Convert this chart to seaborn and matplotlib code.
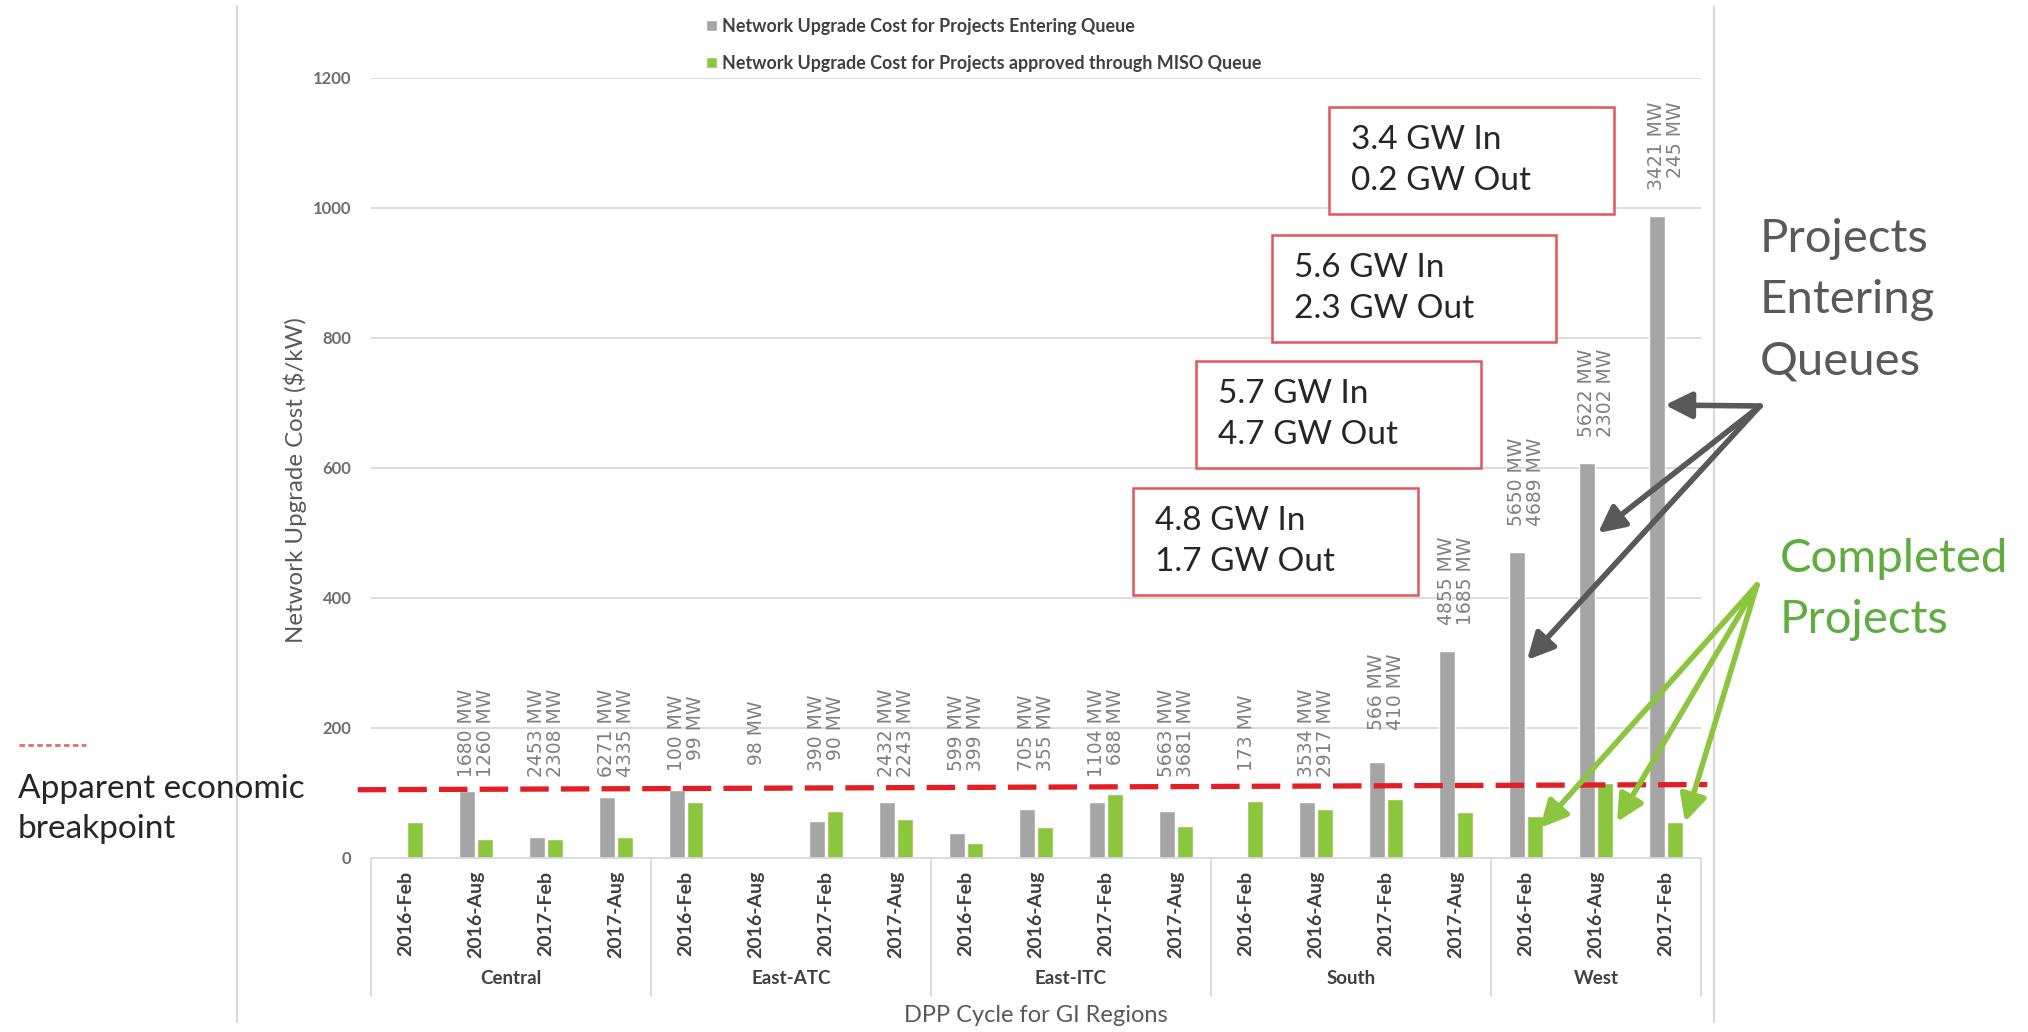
import numpy as np
import pandas as pd
import matplotlib
matplotlib.use("Agg")
import matplotlib.pyplot as plt
import seaborn as sns
from matplotlib.patches import Rectangle, FancyArrowPatch, Patch
from matplotlib.lines import Line2D

# ---------------- data ----------------
regions = ["Central"] * 4 + ["East-ATC"] * 4 + ["East-ITC"] * 4 + ["South"] * 4 + ["West"] * 3
cycles = ["2016-Feb", "2016-Aug", "2017-Feb", "2017-Aug"] * 4 + ["2016-Feb", "2016-Aug", "2017-Feb"]
entering_cost = [np.nan, 103, 32, 94,
                 105, np.nan, 57, 86,
                 38, 75, 86, 72,
                 np.nan, 86, 147, 318,
                 471, 607, 988]
approved_cost = [55, 30, 30, 32,
                 86, np.nan, 72, 60,
                 23, 47, 98, 49,
                 88, 76, 91, 71,
                 65, 115, 56]
mw_entering = ["", "1680", "2453", "6271", "100", "98", "390", "2432", "599", "705",
               "1104", "5663", "173", "3534", "566", "4855", "5650", "5622", "3421"]
mw_approved = ["", "1260", "2308", "4335", "99", "", "90", "2243", "399", "355",
               "688", "3681", "", "2917", "410", "1685", "4689", "2302", "245"]
series_names = ["Network Upgrade Cost for Projects Entering Queue",
                "Network Upgrade Cost for Projects approved through MISO Queue"]
breakpoint_start = 105
breakpoint_end = 113
y_ticks = [0, 200, 400, 600, 800, 1000, 1200]
box_texts = ["3.4 GW In\n0.2 GW Out", "5.6 GW In\n2.3 GW Out",
             "5.7 GW In\n4.7 GW Out", "4.8 GW In\n1.7 GW Out"]

# ---------------- layout / style ----------------
W, H = 2028, 1032
GREY = "#A5A5A5"
GREEN = "#8CC63F"
GRID = "#D9D9D9"
box_rects = [(1329, 107, 285, 107), (1272, 235, 284, 107),
             (1196, 361, 285, 107), (1133, 488, 285, 107)]

sns.set_theme(style="white")
plt.rcParams["font.family"] = ["Lato", "DejaVu Sans"]

fig = plt.figure(figsize=(W / 100, H / 100), dpi=100)
fig.patch.set_facecolor("white")
ax = fig.add_axes([371 / W, 1 - 858 / H, 1330 / W, 780 / H])

n = len(cycles)
keys = [f"{r}|{c}" for r, c in zip(regions, cycles)]
df = pd.DataFrame({
    "key": keys * 2,
    "cost": entering_cost + approved_cost,
    "series": [series_names[0]] * n + [series_names[1]] * n,
})
sns.barplot(data=df, x="key", y="cost", hue="series", order=keys, hue_order=series_names,
            palette=[GREY, GREEN], width=0.52, gap=0.08, saturation=1,
            errorbar=None, legend=False, ax=ax, zorder=2)

ax.set_xlim(-0.5, n - 0.5)
ax.set_ylim(0, 1200)
ax.set_xlabel("")
ax.set_ylabel("")
ax.set_yticks(y_ticks)
ax.set_yticklabels([str(t) for t in y_ticks], fontsize=12, fontweight="bold", color="#6E6E6E")
ax.set_xticks(range(n))
ax.set_xticklabels(cycles, rotation=90, fontsize=14, fontweight="bold", color="#404040")
ax.tick_params(axis="x", length=0, pad=9)
ax.tick_params(axis="y", length=0, pad=14)
ax.yaxis.grid(True, color=GRID, lw=1.3)
ax.xaxis.grid(False)
ax.set_axisbelow(True)
for s in ["left", "top", "right"]:
    ax.spines[s].set_visible(False)
ax.spines["bottom"].set_color(GRID)
ax.spines["bottom"].set_linewidth(1.3)

# breakpoint line
ax.plot([-0.69, n - 0.41], [breakpoint_start, breakpoint_end], color="#E31E24", lw=3.8,
        dashes=(5.4, 2.3), clip_on=False, zorder=4)

# MW labels
for i in range(n):
    parts = []
    if mw_entering[i]:
        parts.append(f"{mw_entering[i]} MW")
    if mw_approved[i]:
        parts.append(f"{mw_approved[i]} MW")
    if not parts:
        continue
    v = entering_cost[i]
    y = 192 if (np.isnan(v) or v < 130) else v + 108
    ax.text(i, y, "\n".join(parts), rotation=90, ha="center", va="center",
            multialignment="right", fontsize=13.5, color="#808080",
            family="DejaVu Sans", linespacing=1.0, zorder=3)

# group separators and region labels
trans = ax.get_xaxis_transform()
bounds = [-0.5]
for i in range(1, n):
    if regions[i] != regions[i - 1]:
        bounds.append(i - 0.5)
bounds.append(n - 0.5)
for b in bounds:
    ax.plot([b, b], [0, -0.177], transform=trans, clip_on=False, color=GRID, lw=1.3)
for r in dict.fromkeys(regions):
    idx = [i for i, rr in enumerate(regions) if rr == r]
    ax.text(np.mean(idx), -0.155, r, transform=trans, ha="center", va="center",
            fontsize=13.5, fontweight="bold", color="#404040")

# axis titles
fig.text(1036 / W, 1 - 1015 / H, "DPP Cycle for GI Regions", ha="center", va="center",
         fontsize=17, color="#595959")
fig.text(295 / W, 1 - 480 / H, "Network Upgrade Cost ($/kW)", rotation=90,
         ha="center", va="center", fontsize=17.3, color="#595959")

# legend
handles = [Patch(facecolor=GREY), Patch(facecolor=GREEN)]
fig.legend(handles, series_names, loc="upper left", bbox_to_anchor=(706 / W, 1 - 18 / H),
           frameon=False, prop={"size": 12.9, "weight": "bold"}, labelcolor="#404040",
           handlelength=0.6, handleheight=0.6, handletextpad=0.3, labelspacing=1.1,
           borderaxespad=0, borderpad=0)

# chart frame lines
for xf in (237, 1714):
    fig.add_artist(Line2D([xf / W, xf / W], [1 - 6 / H, 1 - 1022 / H],
                          transform=fig.transFigure, color=GRID, lw=1.5))

# annotation boxes
for (x, y, w, h), t in zip(box_rects, box_texts):
    fig.add_artist(Rectangle((x / W, 1 - (y + h) / H), w / W, h / H, transform=fig.transFigure,
                             facecolor="white", edgecolor="#E0575B", lw=1.8, zorder=5))
    fig.text((x + 22) / W, 1 - (y + h / 2) / H, t, ha="left", va="center", fontsize=24,
             color="#262626", linespacing=1.45, zorder=6)

# left annotation
fig.add_artist(Line2D([19 / W, 86 / W], [1 - 745 / H, 1 - 745 / H], transform=fig.transFigure,
                      color="#E46C6C", lw=2, dashes=(2, 1.2)))
fig.text(18 / W, 1 - 774 / H, "Apparent economic\nbreakpoint", ha="left", va="top",
         fontsize=24, color="#262626", linespacing=1.4)

# right annotations
fig.text(1760 / W, 1 - 218 / H, "Projects\nEntering\nQueues", ha="left", va="top",
         fontsize=34, color="#595959", linespacing=1.57)
fig.text(1780 / W, 1 - 538 / H, "Completed\nProjects", ha="left", va="top",
         fontsize=34, color="#5DAE3E", linespacing=1.56)


def arrow(p0, p1, color):
    a = FancyArrowPatch((p0[0] / W, 1 - p0[1] / H), (p1[0] / W, 1 - p1[1] / H),
                        transform=fig.transFigure, arrowstyle="-|>,head_length=1.0,head_width=0.5",
                        mutation_scale=16, lw=4, color=color, shrinkA=0, shrinkB=0, zorder=7)
    fig.add_artist(a)


for tip in [(1665, 405), (1598, 533), (1527, 660)]:
    arrow((1760, 406), tip, "#595959")
for tip in [(1540, 828), (1617, 822), (1685, 822)]:
    arrow((1757, 585), tip, "#8CC63F")

fig.savefig("out.png", dpi=100, facecolor="white")
